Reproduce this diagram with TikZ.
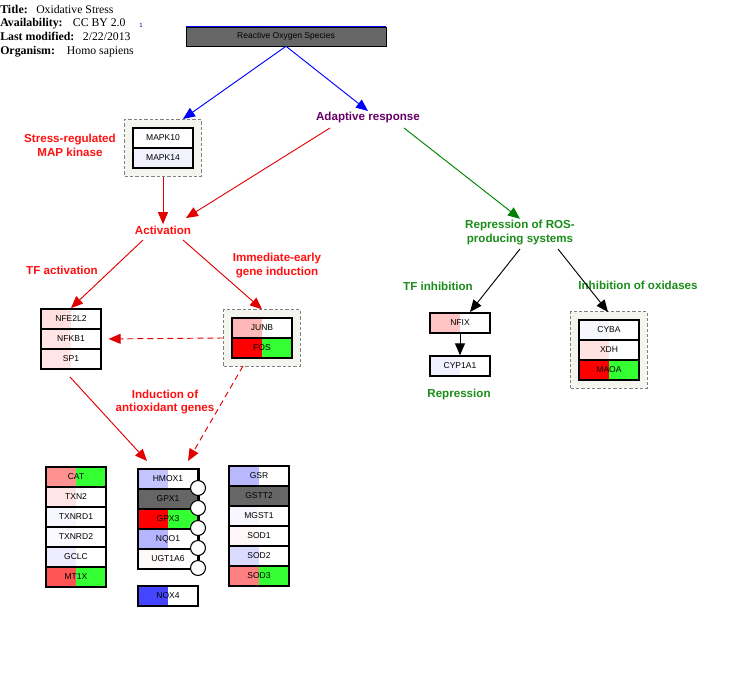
\documentclass[tikz,border=0pt]{standalone}
\usepackage{fontspec}
\setmainfont{Liberation Serif}
\setsansfont{Liberation Sans}
\usetikzlibrary{arrows.meta,fit,backgrounds}

\definecolor{grn}{HTML}{33FF33}
\definecolor{dgray}{HTML}{666666}
\definecolor{lblred}{HTML}{FF1010}
\definecolor{arrred}{HTML}{E00000}
\definecolor{lblgreen}{HTML}{1A8C1A}
\definecolor{arrgreen}{HTML}{008000}
\definecolor{lblpurple}{HTML}{660066}
\definecolor{grpfill}{HTML}{F5F5EF}

% gene box: name, x, y (top left), left fill, right fill, label
\newcommand\gene[6]{%
  \fill[fill=#4] (#2,#3) rectangle ++(30,20);
  \fill[fill=#5] (#2+30,#3) rectangle ++(30,20);
  \node[genebox] (#1) at (#2+30,#3+10) {#6};}

\tikzset{
  genebox/.style={draw, line width=1pt, minimum width=45pt, minimum height=15pt,
    inner sep=0pt, font=\sffamily\fontsize{6.4}{7}\selectfont},
  grp/.style={draw=gray, dash pattern=on 2.5pt off 1.5pt, fill=grpfill, line width=0.8pt},
  lbl/.style={font=\sffamily\bfseries\fontsize{8.7}{10}\selectfont, align=center, inner sep=1pt},
  hdr/.style={anchor=base west, inner sep=0pt, font=\bfseries\fontsize{8.9}{10}\selectfont},
  hdrval/.style={anchor=base west, inner sep=0pt, font=\fontsize{8.8}{10}\selectfont},
  arr/.style={-{Triangle[length=9pt,width=7.5pt]}, line width=0.7pt},
  redarr/.style={arr, arrred},
  redash/.style={arr, arrred, dash pattern=on 4.5pt off 3pt},
}

\begin{document}
\begin{tikzpicture}[x=0.75pt,y=-0.75pt]
  \useasboundingbox (0,0) rectangle (752,681);

  % header
  \node[hdr] (ttl) at (0,13.5) {Title:};
  \node[hdrval] (ttlv) at (36,13.5) {Oxidative Stress};
  \node[hdr] (avl) at (0,27) {Availability:};
  \node[hdrval] (avlv) at (72.7,27) {CC BY 2.0};
  \node[hdr] (mod) at (0,40.7) {Last modified:};
  \node[hdrval] (modv) at (82.7,40.7) {2/22/2013};
  \node[hdr] (org) at (0,54.3) {Organism:};
  \node[hdrval] (orgv) at (66.7,54.3) {Homo sapiens};
  \node[inner sep=0pt, text=blue!70!black, font=\sffamily\fontsize{4.5}{5}\selectfont] (note) at (141,25) {1};

  % Reactive Oxygen Species
  \node[draw, fill=dgray, minimum width=150pt, minimum height=14.25pt, inner sep=0pt,
    font=\sffamily\fontsize{6.4}{7}\selectfont] (ros) at (286,36.5) {Reactive Oxygen Species};
  \draw[blue, line width=1pt] (ros.north west) -- (ros.north east);

  % gene boxes
  \gene{MAPK10}{133}{128}{white}{white}{MAPK10}
  \gene{MAPK14}{133}{148}{blue!5}{blue!5}{MAPK14}
  \foreach \g/\lc/\rc [count=\i from 0] in {NFE2L2/red!12/white, NFKB1/red!10/white, SP1/red!10/white}
    {\gene{\g}{41}{309+20*\i}{\lc}{\rc}{\g}}
  \gene{JUNB}{232}{318}{red!28}{white}{JUNB}
  \gene{FOS}{232}{338}{red}{grn}{FOS}
  \gene{NFIX}{430}{313}{red!23}{white}{NFIX}
  \gene{CYP1A1}{430}{356}{blue!6}{white}{CYP1A1}
  \foreach \g/\lc/\rc [count=\i from 0] in {CYBA/blue!3/white, XDH/red!11/white, MAOA/red/grn}
    {\gene{\g}{579}{320+20*\i}{\lc}{\rc}{\g}}

  % antioxidant genes
  \foreach \g/\lc/\rc [count=\i from 0] in {CAT/red!43/grn, TXN2/red!10/white, TXNRD1/blue!3/white,
      TXNRD2/blue!2/white, GCLC/blue!7/white, MT1X/red!67/grn}
    {\gene{\g}{46}{467+20*\i}{\lc}{\rc}{\g}}
  \foreach \g/\lc/\rc [count=\i from 0] in {HMOX1/blue!23/white, GPX1/dgray/dgray, GPX3/red/grn,
      NQO1/blue!29/white, UGT1A6/red!2/white}
    {\gene{\g}{138}{469+20*\i}{\lc}{\rc}{\g}}
  \gene{NOX4}{138}{586}{blue!73}{white}{NOX4}
  \foreach \g/\lc/\rc [count=\i from 0] in {GSR/blue!28/white, GSTT2/dgray/dgray, MGST1/blue!3/white,
      SOD1/red!3/white, SOD2/blue!14/white, SOD3/red!50/grn}
    {\gene{\g}{229}{466+20*\i}{\lc}{\rc}{\g}}

  % mim bar with circles
  \draw[line width=1.5pt] (HMOX1.north east) -- (UGT1A6.south east);
  \foreach \i in {0,...,4}
    \draw[fill=white, line width=0.8pt] (198,{488+20*\i}) circle[radius=5.6pt];

  % groups
  \begin{scope}[on background layer]
    \node[grp, fit=(MAPK10)(MAPK14), inner sep=5.7pt] (mapkgrp) {};
    \node[grp, fit=(JUNB)(FOS), inner sep=5.6pt] (jungrp) {};
    \node[grp, fit=(CYBA)(MAOA), inner sep=5.8pt] (oxgrp) {};
  \end{scope}
  \node[fit=(NFE2L2)(SP1), inner sep=0pt] (tfgrp) {};

  % labels
  \node[lbl, text=lblred] (stresslbl) at (70,145.5) {Stress-regulated\\MAP kinase};
  \node[lbl, text=lblred] (act) at (163,230) {Activation};
  \node[lbl, text=lblpurple] (adapt) at (368,118) {Adaptive response};
  \node[lbl, text=lblgreen] (repr) at (520,232.5) {Repression of ROS-\\producing systems};
  \node[lbl, text=lblred] (tfact) at (62,270) {TF activation};
  \node[lbl, text=lblred] (immed) at (277,265.5) {Immediate-early\\gene induction};
  \node[lbl, text=lblred] (induct) at (165,402) {Induction of\\antioxidant genes};
  \node[lbl, text=lblgreen] (tfinh) at (438,286) {TF inhibition};
  \node[lbl, text=lblgreen] (oxinh) at (638,285) {Inhibition of oxidases};
  \node[lbl, text=lblgreen] (replbl) at (459,394) {Repression};

  % connector ends
  \coordinate (mapkin) at (183,119);
  \coordinate (adL) at (330,128);
  \coordinate (adR) at (404,128);
  \coordinate (actin) at (186,218);
  \coordinate (actL) at (143,240);
  \coordinate (actR) at (183,240);
  \coordinate (tfout) at (70,377);
  \coordinate (junout) at (243,366);
  \coordinate (antL) at (147,461);
  \coordinate (antR) at (188,461);
  \coordinate (reprL) at (520,249);
  \coordinate (reprR) at (558,249);
  \coordinate (nfixin) at (470,312);
  \coordinate (oxin) at (608,312);

  % connectors
  \draw[arr, blue] (ros.south) -- (mapkin);
  \draw[arr, blue] (ros.south) -- (adapt.north);
  \draw[redarr] (mapkgrp.south) -- (act.north);
  \draw[redarr] (adL) -- (actin);
  \draw[arr, arrgreen] (adR) -- (repr.north);
  \draw[redarr] (actL) -- (tfgrp.north);
  \draw[redarr] (actR) -- (jungrp.north);
  \draw[redash, shorten >=5pt] (jungrp.west) -- (tfgrp.east);
  \draw[redarr] (tfout) -- (antL);
  \draw[redash] (junout) -- (antR);
  \draw[arr] (reprL) -- (nfixin);
  \draw[arr] (reprR) -- (oxin);
  \draw[arr] (NFIX.south) -- (CYP1A1.north);
\end{tikzpicture}
\end{document}
